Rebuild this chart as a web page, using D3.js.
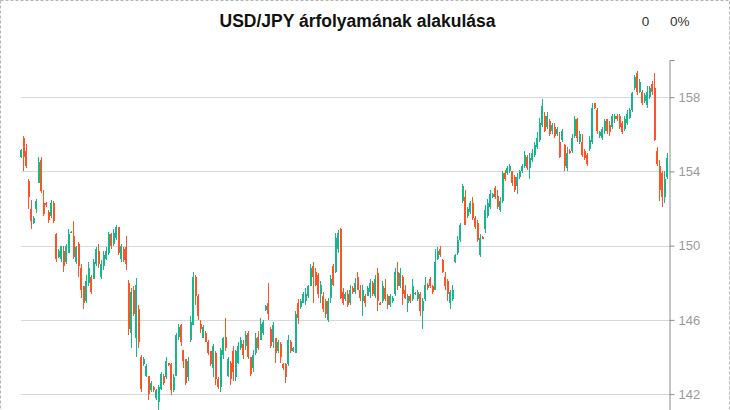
<!DOCTYPE html>
<html><head><meta charset="utf-8">
<script src="https://cdn.jsdelivr.net/npm/d3@7"></script>
<style>body{margin:0;background:#fff}svg{display:block}</style>
</head><body><svg id="c" width="730" height="410"></svg>
<script>
const title = "USD/JPY árfolyamának alakulása";
const changeAbs = "0";
const changePct = "0%";
const yTicks = [142, 146, 150, 154, 158];

const open = [
154.75,155.8,155.1,153.5,152.0,151.2,152.0,153.4,154.6,152.3,152.3,151.8,151.6,152.3,150.6,149.4,149.3,149.7,149.1,149.6,150.72,150.5,149.1,150.1,148.8,147.8,147.0,148.0,148.3,148.2,149.0,149.7,148.3,148.9,149.3,149.6,150.6,150.1,150.4,151.0,149.3,149.8,149.9,
148.0,145.3,147.6,145.0,146.6,144.0,143.6,143.0,143.0,142.2,142.4,141.8,141.6,142.3,143.0,142.9,143.65,143.6,142.2,143.0,145.1,145.7,144.4,143.9,142.9,144.9,145.7,148.3,147.3,145.8,145.0,145.3,144.8,144.3,143.4,144.2,142.8,142.4,144.1,145.1,143.0,143.7,144.3,142.9,
143.7,144.5,144.7,144.6,145.3,144.0,143.4,144.2,145.1,144.9,145.3,146.55,146.9,145.5,144.8,145.0,144.3,144.7,143.6,143.6,143.6,144.8,144.3,144.2,146.9,146.7,146.9,147.0,147.3,147.8,148.9,148.6,148.4,147.4,147.3,147.0,146.0,147.2,148.9,148.6,149.8,150.9,147.5,147.1,
147.4,146.9,147.7,147.5,148.3,147.6,147.0,147.3,147.3,147.5,148.0,147.3,148.5,146.9,147.0,147.7,147.3,146.8,147.0,147.4,148.6,147.8,148.3,147.6,146.9,147.3,147.1,147.45,147.1,147.4,146.5,147.1,147.9,148.2,147.8,147.6,149.3,149.8,149.2,148.3,148.1,146.9,147.1,
149.1,149.6,150.3,152.4,152.6,151.6,151.8,152.3,151.5,151.2,149.5,150.45,150.9,151.6,152.1,152.6,153.1,152.7,151.9,152.4,153.9,153.9,154.0,154.0,153.7,153.2,153.7,154.0,154.3,154.8,154.2,154.6,154.9,155.3,155.7,156.5,157.0,156.4,156.7,156.2,156.4,156.0,155.6,
155.7,155.4,154.2,155.1,155.1,155.9,156.8,155.6,155.6,155.1,154.9,155.2,155.6,157.7,157.3,155.9,155.8,156.2,156.8,156.5,156.4,156.8,157.0,157.0,156.6,156.3,156.6,156.9,157.3,158.5,159.3,158.3,158.3,157.8,157.6,158.0,158.7,158.5,155.1,154.3,153.9,152.6,153.7
];
const close = [
155.15,154.8,154.3,152.6,151.3,151.5,152.4,154.5,152.95,151.7,152.2,151.4,152.3,151.3,149.3,149.7,150.0,148.9,150.0,150.6,150.75,149.4,149.9,148.9,147.6,146.9,148.1,148.8,147.5,149.1,149.8,149.0,149.0,149.5,149.7,150.6,150.0,150.7,151.0,149.6,150.0,149.2,149.0,
145.5,147.5,146.3,147.9,144.8,142.3,143.9,143.5,142.0,142.6,142.2,142.2,142.4,143.1,142.6,143.8,143.55,142.2,142.9,145.2,145.6,144.8,143.8,142.6,143.8,145.9,148.3,147.3,146.2,145.5,145.6,144.8,144.2,143.6,144.6,142.8,142.4,144.4,145.0,144.5,143.9,142.8,143.2,144.3,
144.6,144.9,144.1,145.2,144.0,143.1,144.1,145.0,144.5,145.8,145.9,146.75,146.3,144.6,145.7,144.2,144.8,144.0,143.4,142.9,144.9,144.3,144.5,146.3,146.1,147.0,147.4,147.4,147.8,148.8,148.3,147.9,147.4,147.9,146.6,146.3,147.0,148.2,147.9,150.4,150.7,147.2,146.9,147.4,
146.8,147.6,147.5,148.0,147.6,147.2,147.6,146.9,147.7,148.0,147.4,148.2,147.0,146.85,147.8,147.1,146.8,147.3,147.2,148.6,147.8,148.5,147.4,147.2,147.3,147.0,147.8,147.4,147.5,146.5,147.0,147.9,147.7,147.8,147.5,149.1,149.7,149.5,148.6,147.8,147.4,147.5,147.6,
149.5,150.3,151.1,153.2,151.1,152.0,152.3,151.5,151.0,150.3,150.4,150.4,151.9,152.3,152.8,152.8,152.6,152.1,152.4,153.9,153.6,154.2,154.3,153.4,153.0,153.7,154.0,154.3,154.9,154.2,154.7,155.0,155.4,155.8,156.6,157.5,156.2,157.0,156.0,156.5,155.9,156.3,154.8,
156.2,154.3,155.0,155.0,155.8,156.8,155.8,156.0,154.9,154.7,154.4,155.7,157.4,157.4,156.2,156.1,156.3,156.7,156.2,156.1,157.0,157.0,156.8,156.4,156.1,156.8,157.1,157.3,158.2,159.1,158.3,158.8,157.7,158.1,158.3,158.5,158.3,155.7,154.4,153.0,152.6,153.6,154.7
];
const high = [
155.2,155.9,155.5,153.6,152.45,151.6,152.5,154.8,154.75,153.0,152.35,151.9,152.45,152.4,150.7,149.8,150.0,150.0,150.1,150.9,150.8,151.3,150.0,150.2,149.0,147.8,148.4,149.1,148.4,149.3,149.9,150.1,149.2,149.7,149.9,150.75,150.7,150.9,151.1,151.0,150.1,149.9,150.5,
148.15,147.7,147.8,148.25,146.8,144.1,144.0,143.6,143.0,142.7,142.45,142.3,142.5,143.2,143.1,144.0,143.7,143.7,143.1,145.3,145.8,145.8,144.4,143.9,144.0,146.2,148.6,148.4,147.4,146.0,145.7,145.4,144.9,144.3,144.7,144.3,142.9,144.5,145.1,146.1,144.0,143.8,144.6,144.4,
144.8,145.1,144.9,145.4,145.4,144.0,144.4,145.3,145.4,146.1,146.0,146.8,148.0,145.6,145.9,145.0,144.9,144.8,143.65,143.7,145.2,144.9,144.55,146.5,147.1,147.1,147.5,147.7,147.9,149.0,149.1,148.8,148.5,148.1,147.5,147.1,147.2,148.4,149.0,150.7,150.85,150.95,147.7,147.5,
147.6,147.9,147.8,148.25,148.6,147.9,147.9,147.4,147.8,148.2,148.1,148.4,148.8,146.95,148.1,148.2,147.4,147.4,147.3,148.8,149.1,148.8,148.4,147.9,147.4,147.4,148.2,147.5,147.6,147.5,147.2,148.3,148.0,148.3,147.9,149.8,149.9,150.0,149.3,148.6,148.2,147.6,147.9,
149.55,150.5,151.2,153.3,153.0,152.1,152.4,152.6,151.6,151.4,150.6,150.5,152.2,152.5,153.0,152.85,153.2,153.0,152.6,154.0,154.1,154.3,154.4,154.0,153.8,153.9,154.1,154.4,155.1,154.9,155.0,155.2,155.6,156.1,156.9,157.9,157.2,157.2,156.8,156.6,156.6,156.4,156.1,
156.3,155.5,155.3,155.2,156.0,157.0,156.9,156.2,156.0,155.2,155.0,155.9,157.7,157.7,157.4,156.2,156.4,156.8,156.8,156.7,157.1,157.1,157.1,157.1,156.7,157.0,157.3,157.4,158.3,159.2,159.4,159.0,158.4,158.2,158.6,158.6,158.85,159.3,155.3,154.6,154.0,154.0,155.0
];
const low = [
154.7,154.0,154.2,152.0,150.9,151.15,151.75,153.4,152.85,151.6,152.1,151.2,151.5,151.2,149.1,149.35,149.1,148.6,149.0,149.6,150.7,149.3,149.0,148.3,147.2,146.6,146.9,147.8,147.4,148.2,148.9,148.8,148.2,148.7,149.2,149.5,149.8,150.0,150.3,149.5,149.1,149.1,148.7,
145.2,144.5,146.2,144.0,144.5,142.1,143.5,142.9,141.7,142.1,142.1,141.7,140.9,142.2,142.5,142.8,143.5,141.95,142.1,143.0,144.9,144.6,143.4,142.5,142.7,144.8,145.7,146.8,146.0,145.3,145.0,144.8,144.1,143.5,142.9,142.5,142.3,142.1,143.9,144.3,142.9,142.5,142.7,142.7,
143.6,144.4,143.9,144.4,143.9,143.0,143.2,144.1,144.4,144.9,145.2,146.5,146.0,144.5,144.5,143.7,144.2,143.7,143.3,142.6,143.5,144.2,144.25,144.2,145.8,146.6,146.9,146.8,147.2,147.8,146.9,147.8,147.2,146.9,146.4,146.1,145.9,146.9,147.8,148.5,149.6,147.1,146.8,147.0,
146.7,146.8,147.4,147.4,147.6,147.0,146.2,146.7,147.3,147.2,147.3,147.2,146.5,146.8,146.9,147.0,146.6,146.7,146.9,147.3,147.6,147.7,146.8,147.1,146.4,146.9,147.0,147.35,147.0,146.2,145.5,147.0,147.6,147.7,147.4,147.6,149.2,149.4,148.5,147.6,147.0,146.6,147.0,
149.05,149.5,150.2,152.3,151.1,151.5,151.7,151.4,150.9,150.2,149.4,150.35,150.7,151.5,152.0,152.55,152.5,152.0,151.8,152.3,153.5,153.8,153.9,153.2,152.9,152.8,153.6,153.9,154.2,154.1,153.6,154.5,154.8,155.2,155.6,156.4,156.1,156.3,155.9,156.0,155.8,155.9,154.7,
155.6,154.0,154.0,154.95,155.0,155.8,155.6,155.5,154.8,154.6,154.3,155.1,155.5,157.35,156.0,155.8,155.7,156.0,156.0,155.9,156.3,156.6,156.7,156.3,156.0,156.2,156.5,156.8,157.2,158.4,158.1,158.2,157.55,157.7,157.4,157.9,158.1,155.65,154.3,152.4,152.1,152.3,153.6
];
const days = d3.range(open.length);

const UP = "#17b78c", DOWN = "#fc5327";
const svg = d3.select("#c");
const font = "'Liberation Sans', Arial, sans-serif";

// dashed frame
svg.append("rect").attr("x", 0.5).attr("y", 0.5).attr("width", 729).attr("height", 520)
  .attr("fill", "none").attr("stroke", "#b5b5b5").attr("stroke-dasharray", "3,2");

const x = d3.scaleBand().domain(days).range([20.25, 668.25]);
const y = d3.scaleLinear().domain([140, 160]).range([431.25, 60]);

// grid
svg.append("g").selectAll("line").data(yTicks).join("line")
  .attr("x1", 21).attr("x2", 669)
  .attr("y1", d => Math.round(y(d)) + 0.5).attr("y2", d => Math.round(y(d)) + 0.5)
  .attr("stroke", "#d6d9dc").attr("stroke-width", 1);

// candles
const c = svg.append("g").selectAll("g").data(days).join("g");
c.append("rect")
  .attr("x", i => Math.round(x(i) + x.bandwidth() / 2 - 0.5))
  .attr("width", 1)
  .attr("y", i => y(high[i]))
  .attr("height", i => Math.max(1, y(low[i]) - y(high[i])))
  .attr("fill", i => close[i] >= open[i] ? UP : DOWN)
  .attr("shape-rendering", "crispEdges");
c.append("rect")
  .attr("x", i => Math.round(x(i) + x.bandwidth() / 2 - 1))
  .attr("width", 2)
  .attr("y", i => y(Math.max(open[i], close[i])))
  .attr("height", i => Math.max(1.5, Math.abs(y(open[i]) - y(close[i]))))
  .attr("fill", i => close[i] >= open[i] ? UP : DOWN)
  .attr("shape-rendering", "crispEdges");

// right axis
const ax = svg.append("g").attr("transform", "translate(669.5,0)")
  .call(d3.axisRight(y).tickValues(yTicks).tickSize(5).tickSizeOuter(5).tickPadding(4).tickFormat(d3.format("d")));
ax.select(".domain").attr("stroke", "#8c8c8c");
ax.selectAll(".tick line").attr("stroke", "#8c8c8c");
ax.selectAll(".tick text").attr("fill", "#9a9a9a").attr("font-size", 13).attr("font-family", font);

// title and change texts
svg.append("text").attr("x", 357.5).attr("y", 27).attr("text-anchor", "middle")
  .attr("font-family", font).attr("font-weight", "bold").attr("font-size", 17.5).attr("fill", "#111")
  .text(title);
svg.append("text").attr("x", 645.5).attr("y", 26).attr("text-anchor", "middle")
  .attr("font-family", font).attr("font-size", 13.5).attr("fill", "#333").text(changeAbs);
svg.append("text").attr("x", 670).attr("y", 26).attr("text-anchor", "start")
  .attr("font-family", font).attr("font-size", 13.5).attr("fill", "#333").text(changePct);
</script>
</body></html>
